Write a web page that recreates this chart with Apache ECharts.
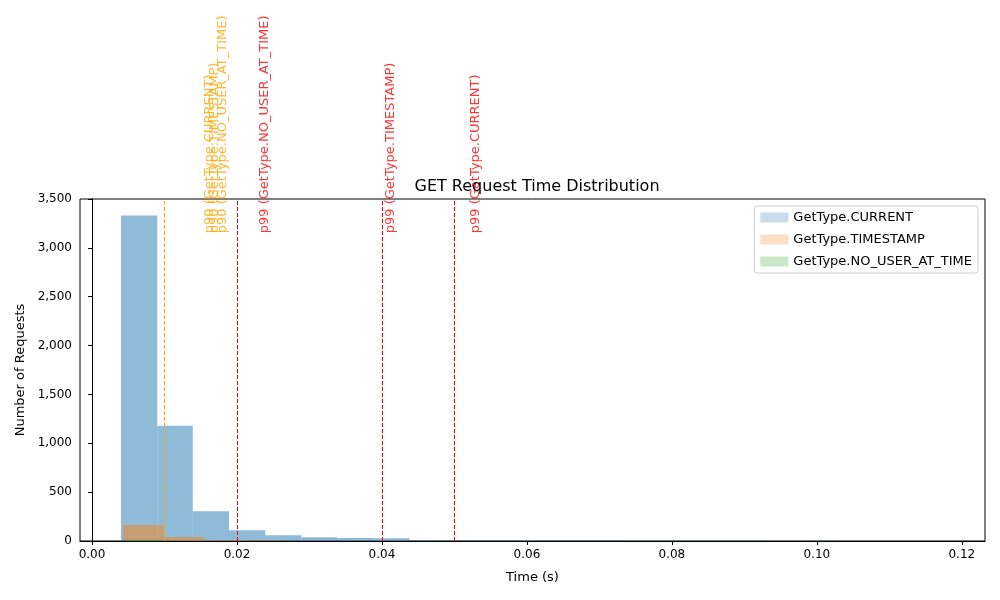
<!DOCTYPE html>
<html><head><meta charset="utf-8">
<script src="https://cdn.jsdelivr.net/npm/echarts@6/dist/echarts.min.js"></script>
<style>html,body{margin:0;background:#fff}#c{width:1000px;height:600px}</style>
</head><body><div id="c"></div>
<script>
// histogram bins: [start, end, count]
const currentBins = [
  [0.0040, 0.0090, 3330], [0.0090, 0.0139, 1180], [0.0139, 0.0189, 305],
  [0.0189, 0.0239, 110], [0.0239, 0.0289, 60], [0.0289, 0.0338, 38],
  [0.0338, 0.0388, 30], [0.0388, 0.0438, 28], [0.0438, 0.0488, 8],
  [0.0488, 0.0537, 6], [0.0537, 0.0587, 5], [0.0587, 0.0637, 5],
  [0.0637, 0.0687, 4], [0.0687, 0.0736, 4], [0.0736, 0.0786, 3],
  [0.0786, 0.0836, 3], [0.0836, 0.0886, 3], [0.0886, 0.0936, 3],
  [0.0985, 0.1035, 3]
];
const timestampBins = [
  [0.0043, 0.0099, 165], [0.0099, 0.0155, 42], [0.0155, 0.0212, 8], [0.0212, 0.0268, 5]
];
const noUserBins = [
  [0.0043, 0.0106, 12], [0.0106, 0.0170, 3]
];
const p90 = [['CURRENT', 0.0150], ['TIMESTAMP', 0.0157], ['NO_USER_AT_TIME', 0.0169]];
const p99 = [['NO_USER_AT_TIME', 0.0226], ['TIMESTAMP', 0.0400], ['CURRENT', 0.0518]];
const xTicks = [0, 0.02, 0.04, 0.06, 0.08, 0.10, 0.12];
const labelY = 3150;

const font = 'DejaVu Sans';
function hist(name, data, color) {
  return {
    name, type: 'custom', data, itemStyle: {color, opacity: 0.5},
    renderItem(params, api) {
      const a = api.coord([api.value(0), api.value(2)]);
      const b = api.coord([api.value(1), 0]);
      return {type: 'rect', shape: {x: a[0], y: a[1], width: b[0] - a[0], height: b[1] - a[1]},
        style: {fill: color, opacity: 0.5}};
    },
    encode: {x: [0, 1], y: 2}
  };
}
function pLines(list, pct, color) {
  return [{
    type: 'line', data: [], silent: true,
    markLine: {symbol: 'none', silent: true, label: {show: false},
      lineStyle: {color, type: [4, 2], width: 1},
      data: list.map(d => ({xAxis: d[1]}))}
  }, {
    type: 'scatter', symbolSize: 0, clip: false, silent: true,
    data: list.map(d => [d[1], labelY, pct + ' (GetType.' + d[0] + ')']),
    label: {show: true, formatter: p => p.data[2], rotate: 90, position: [2, 0],
      align: 'left', verticalAlign: 'top', color, fontFamily: font, fontSize: 13}
  }];
}
const chart = echarts.init(document.getElementById('c'));
chart.setOption({
  animation: false,
  title: {text: 'GET Request Time Distribution', left: 532, textAlign: 'center', top: 174,
    textStyle: {fontFamily: font, fontWeight: 'normal', fontSize: 16, color: '#000'}},
  legend: {right: 22, top: 206, orient: 'vertical', itemWidth: 28, itemHeight: 10, itemGap: 9,
    borderColor: '#ccc', borderWidth: 1, borderRadius: 3, padding: [5, 6],
    textStyle: {fontFamily: font, fontSize: 13, color: '#000'},
    data: [
      {name: 'GetType.CURRENT', icon: 'rect', itemStyle: {color: 'rgba(31,119,180,0.5)'}},
      {name: 'GetType.TIMESTAMP', icon: 'rect', itemStyle: {color: 'rgba(255,127,14,0.5)'}},
      {name: 'GetType.NO_USER_AT_TIME', icon: 'rect', itemStyle: {color: 'rgba(44,160,44,0.5)'}}
    ]},
  grid: {left: 80, right: 15, top: 199, bottom: 59, show: true, borderColor: '#000', borderWidth: 1},
  xAxis: {type: 'value', min: -0.00166, max: 0.1232, splitLine: {show: false},
    name: 'Time (s)', nameLocation: 'middle', nameGap: 30,
    nameTextStyle: {fontFamily: font, fontSize: 13, color: '#000'},
    axisLine: {lineStyle: {color: '#000'}},
    axisTick: {customValues: xTicks, length: 4, lineStyle: {color: '#000'}},
    axisLabel: {customValues: xTicks, formatter: v => v.toFixed(2), fontFamily: font, fontSize: 12, color: '#000'}},
  yAxis: {type: 'value', min: 0, max: 3500, interval: 500, splitLine: {show: false},
    name: 'Number of Requests', nameLocation: 'middle', nameGap: 50,
    nameTextStyle: {fontFamily: font, fontSize: 13, color: '#000'},
    axisLine: {show: true, lineStyle: {color: '#000'}},
    axisTick: {show: true, length: 4, lineStyle: {color: '#000'}},
    axisLabel: {fontFamily: font, fontSize: 12, color: '#000'}},
  series: [
    hist('GetType.CURRENT', currentBins, '#1f77b4'),
    hist('GetType.TIMESTAMP', timestampBins, '#ff7f0e'),
    hist('GetType.NO_USER_AT_TIME', noUserBins, '#2ca02c'),
    ...pLines(p90, 'p90', 'orange'),
    ...pLines(p99, 'p99', 'red')
  ]
});
</script></body></html>
